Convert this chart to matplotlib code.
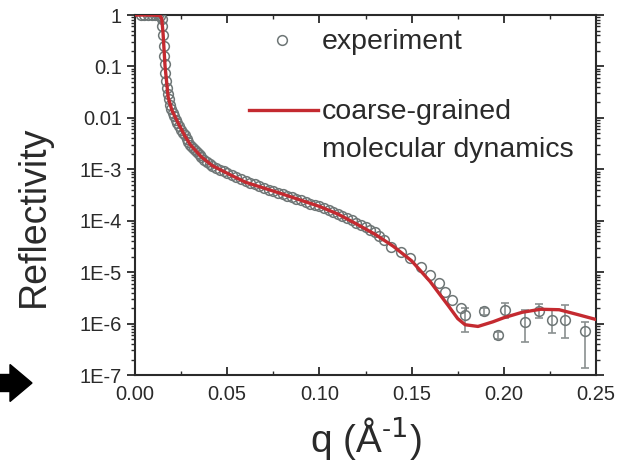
import matplotlib
matplotlib.use("Agg")
import matplotlib.pyplot as plt
from matplotlib.patches import FancyArrow
from matplotlib.ticker import LogLocator, MultipleLocator, NullFormatter

plt.rcParams['font.family'] = ['Liberation Sans', 'DejaVu Sans']

# experiment (neutron reflectivity)
q_exp = [0.003, 0.005, 0.007, 0.009, 0.011, 0.0125, 0.0138,
         0.0145, 0.0149, 0.0152, 0.0155, 0.0158, 0.0161, 0.0165, 0.0169,
         0.0173, 0.0178, 0.0183, 0.0189, 0.0196, 0.0204, 0.0212, 0.0221,
         0.023, 0.024, 0.025, 0.026, 0.027, 0.028, 0.029, 0.030, 0.031,
         0.032, 0.033, 0.034, 0.035, 0.036, 0.0375, 0.039, 0.0405, 0.042,
         0.044, 0.046, 0.048, 0.050, 0.0525, 0.055, 0.0575, 0.060, 0.0625,
         0.065, 0.0675, 0.070, 0.0725, 0.075, 0.0775, 0.080, 0.0825, 0.085,
         0.0875, 0.090, 0.0925, 0.095, 0.0975, 0.100, 0.1025, 0.105, 0.1075,
         0.110, 0.1125, 0.115, 0.1175, 0.120, 0.1225, 0.125, 0.1275, 0.130,
         0.1325, 0.135, 0.1386, 0.144, 0.149, 0.155, 0.160, 0.1647, 0.168,
         0.172, 0.1766]
R_exp = [1.0, 1.0, 1.0, 1.0, 1.0, 0.98, 0.95,
         0.85, 0.6, 0.4, 0.25, 0.16, 0.11, 0.075, 0.052,
         0.038, 0.029, 0.023, 0.018, 0.0148, 0.0125, 0.0107, 0.0092,
         8.0e-3, 6.8e-3, 5.8e-3, 5.0e-3, 4.6e-3, 3.9e-3, 3.4e-3, 3.0e-3, 2.7e-3,
         2.5e-3, 2.3e-3, 2.1e-3, 1.9e-3, 1.75e-3, 1.55e-3, 1.4e-3, 1.28e-3, 1.18e-3,
         1.07e-3, 9.8e-4, 9.1e-4, 8.4e-4, 7.7e-4, 7.1e-4, 6.5e-4, 5.9e-4, 5.5e-4,
         5.1e-4, 4.7e-4, 4.3e-4, 4.0e-4, 3.8e-4, 3.5e-4, 3.3e-4, 3.05e-4, 2.85e-4,
         2.65e-4, 2.5e-4, 2.3e-4, 2.15e-4, 2.0e-4, 1.9e-4, 1.75e-4, 1.6e-4, 1.5e-4,
         1.36e-4, 1.25e-4, 1.13e-4, 1.03e-4, 9.2e-5, 8.3e-5, 7.5e-5, 6.7e-5, 6.0e-5,
         5.0e-5, 4.2e-5, 3.1e-5, 2.45e-5, 1.86e-5, 1.26e-5, 8.7e-6, 6.2e-6, 4.1e-6,
         2.9e-6, 2.0e-6]

# high-q points with visible error bars
q_tail = [0.179, 0.189, 0.197, 0.2005, 0.2115, 0.219, 0.226, 0.233, 0.244]
R_tail = [1.45e-6, 1.74e-6, 5.9e-7, 1.8e-6, 1.07e-6, 1.74e-6, 1.2e-6, 1.2e-6, 7.2e-7]
R_tail_lo = [6.8e-7, 1.5e-6, 5.0e-7, 1.3e-6, 4.4e-7, 1.26e-6, 6.5e-7, 5.2e-7, 1.35e-7]
R_tail_hi = [2.0e-6, 2.0e-6, 7.0e-7, 2.5e-6, 1.8e-6, 2.4e-6, 1.8e-6, 2.3e-6, 1.07e-6]

# coarse-grained MD curve
q_md = [0.000, 0.008, 0.0135, 0.0145, 0.0152, 0.0163, 0.018, 0.020, 0.0234,
        0.027, 0.030, 0.036, 0.042, 0.047, 0.054, 0.060, 0.070, 0.080, 0.090,
        0.100, 0.110, 0.120, 0.130, 0.140, 0.150, 0.160, 0.170, 0.175, 0.179,
        0.186, 0.194, 0.200, 0.210, 0.220, 0.230, 0.240, 0.250]
R_md = [1.0, 1.0, 0.98, 0.85, 0.45, 0.1, 0.025, 0.0141, 7.9e-3,
        4.5e-3, 3.0e-3, 1.74e-3, 1.17e-3, 9.5e-4, 7.1e-4, 5.6e-4, 4.3e-4, 3.3e-4, 2.5e-4,
        1.9e-4, 1.35e-4, 8.7e-5, 5.5e-5, 3.2e-5, 1.66e-5, 6.6e-6, 2.2e-6, 1.25e-6, 9.5e-7,
        8.8e-7, 1.08e-6, 1.3e-6, 1.66e-6, 1.9e-6, 1.86e-6, 1.5e-6, 1.2e-6]

ytick_vals = [1, 0.1, 0.01, 1e-3, 1e-4, 1e-5, 1e-6, 1e-7]
ytick_labels = ['1', '0.1', '0.01', '1E-3', '1E-4', '1E-5', '1E-6', '1E-7']
xtick_vals = [0.00, 0.05, 0.10, 0.15, 0.20, 0.25]
xtick_labels = ['0.00', '0.05', '0.10', '0.15', '0.20', '0.25']

grey = '#6e7676'
red = '#c42a30'
ink = '#2a2a2a'

fig = plt.figure(figsize=(6.17, 4.71), dpi=100)
ax = fig.add_axes([0.2188, 0.2038, 0.7472, 0.7643])

err_lo = [r - lo for r, lo in zip(R_tail, R_tail_lo)]
err_hi = [hi - r for r, hi in zip(R_tail, R_tail_hi)]
ax.errorbar(q_tail, R_tail, yerr=[err_lo, err_hi], fmt='none', ecolor='#8a9090',
            elinewidth=1.2, capsize=3, capthick=1.2, zorder=2)
ax.plot(q_exp + q_tail, R_exp + R_tail, 'o', ms=7, mfc='none', mec=grey, mew=1.1, zorder=3)
ax.plot(q_md, R_md, '-', color=red, lw=2.4, zorder=4)

ax.set_yscale('log')
ax.set_xlim(0, 0.25)
ax.set_ylim(1e-7, 1)
ax.set_xticks(xtick_vals, xtick_labels)
ax.set_yticks(ytick_vals, ytick_labels)
ax.xaxis.set_minor_locator(MultipleLocator(0.025))
ax.yaxis.set_minor_locator(LogLocator(base=10, subs=range(2, 10)))
ax.yaxis.set_minor_formatter(NullFormatter())

ax.tick_params(which='both', top=True, right=True, color=ink, labelsize=14.5, labelcolor=ink)
ax.tick_params(axis='x', which='both', direction='in', pad=7)
ax.tick_params(axis='y', which='both', direction='out')
ax.tick_params(which='major', length=6, width=1.3)
ax.tick_params(which='minor', length=3, width=1.0)
for s in ax.spines.values():
    s.set_linewidth(1.5)
    s.set_color(ink)

ax.set_ylabel('Reflectivity', fontsize=27, color=ink, labelpad=20, y=0.44)
ax.set_xlabel('q (Å$^{\\mathregular{\u2010}1}$)', fontsize=28, color=ink, labelpad=8)

# legend drawn by hand to keep the line on the first text row
ax.plot([0.319], [0.931], 'o', ms=7, mfc='none', mec=grey, mew=1.1, transform=ax.transAxes)
ax.text(0.4056, 0.926, 'experiment', transform=ax.transAxes, fontsize=20.5,
        color=ink, va='center', ha='left')
ax.plot([0.247, 0.397], [0.736, 0.736], '-', color=red, lw=2.4, transform=ax.transAxes)
ax.text(0.4056, 0.731, 'coarse-grained', transform=ax.transAxes, fontsize=20.5,
        color=ink, va='center', ha='left')
ax.text(0.4056, 0.626, 'molecular dynamics', transform=ax.transAxes, fontsize=20.5,
        color=ink, va='center', ha='left')

# black arrow at the left edge (cut off in the source figure)
arrow = FancyArrow(-0.1, 0.88, 0.2, 0, width=0.17, head_width=0.37, head_length=0.22,
                   length_includes_head=False, color='black', transform=fig.dpi_scale_trans)
fig.patches.append(arrow)

fig.savefig('out.png', dpi=100)
